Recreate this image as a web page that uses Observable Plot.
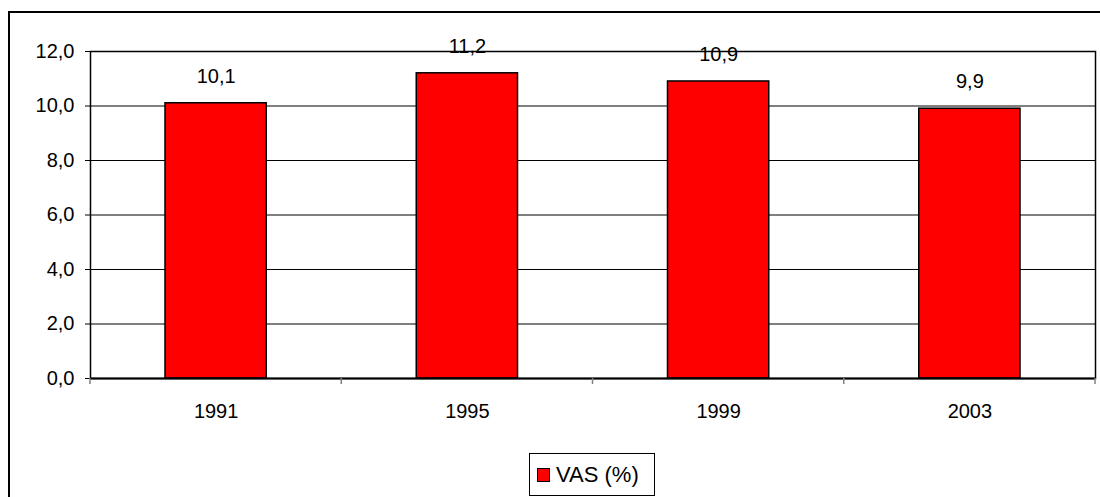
<!DOCTYPE html>
<html>
<head>
<meta charset="utf-8">
<script src="https://cdn.jsdelivr.net/npm/d3@7"></script>
<script src="https://cdn.jsdelivr.net/npm/@observablehq/plot@0.6"></script>
<style>
  html, body { margin: 0; padding: 0; background: #fff; }
  #wrap { position: relative; width: 1100px; height: 497px; overflow: hidden; background: #fff;
          font-family: "Liberation Sans", Arial, sans-serif; }
  #outer { position: absolute; left: 8px; top: 11px; width: 1200px; height: 600px;
           border-left: 2px solid #000; border-top: 2px solid #000; }
  #chart { position: absolute; left: 0; top: 0; }
  #legend { position: absolute; left: 529px; top: 453px; width: 126px; height: 43px;
            border: 1px solid #000; box-sizing: border-box; background: #fff;
            display: flex; align-items: center; font-size: 22px; color: #000; }
  #legend .sw { width: 11px; height: 12px; background: #ff0000; border: 1px solid #000;
                margin-left: 7px; margin-right: 6px; }
</style>
</head>
<body>
<div id="wrap">
  <div id="outer"></div>
  <div id="chart"></div>
  <div id="legend"><span class="sw"></span><span>VAS (%)</span></div>
</div>
<script>
const years = ["1991", "1995", "1999", "2003"];
const vas = [10.1, 11.2, 10.9, 9.9];
const yTicks = [0, 2, 4, 6, 8, 10, 12];
const seriesName = "VAS (%)";

const data = years.map((y, i) => ({year: y, value: vas[i]}));
const fmt = d => d.toFixed(1).replace(".", ",");

function boundaryTicks(index, scales, values, dims) {
  const x = scales.x, y = scales.y;
  const xs = years.map(d => x(d));
  xs.push(dims.width - dims.marginRight);
  const g = d3.create("svg:g");
  g.selectAll("line").data(xs).join("line")
    .attr("x1", d => d).attr("x2", d => d)
    .attr("y1", y(0)).attr("y2", y(0) + 6)
    .attr("stroke", "#808080").attr("stroke-width", 1.5);
  return g.node();
}

const chart = Plot.plot({
  width: 1100,
  height: 440,
  marginLeft: 90,
  marginRight: 5,
  marginTop: 51,
  marginBottom: 62,
  style: {fontFamily: '"Liberation Sans", Arial, sans-serif', fontSize: "20px", color: "#000", background: "transparent"},
  x: {type: "band", domain: years, padding: 0, round: false, tickSize: 0, tickPadding: 25, label: null},
  y: {domain: [0, 12], ticks: yTicks, tickFormat: fmt, tickSize: 5, tickPadding: 11, label: null},
  marks: [
    Plot.ruleY(yTicks.filter(t => t > 0 && t < 12), {stroke: "#000", strokeWidth: 1}),
    Plot.barY(data, {x: "year", y: "value", fill: "#ff0000", stroke: "#000", strokeWidth: 1.5, insetLeft: 75, insetRight: 75}),
    Plot.frame({stroke: "#000", strokeWidth: 1.5}),
    Plot.ruleY([0], {stroke: "#000", strokeWidth: 2}),
    boundaryTicks,
    Plot.text(data, {x: "year", y: "value", text: d => fmt(d.value), dy: -27, fill: "#000", fontSize: 20})
  ]
});
document.getElementById("chart").appendChild(chart);
</script>
</body>
</html>
